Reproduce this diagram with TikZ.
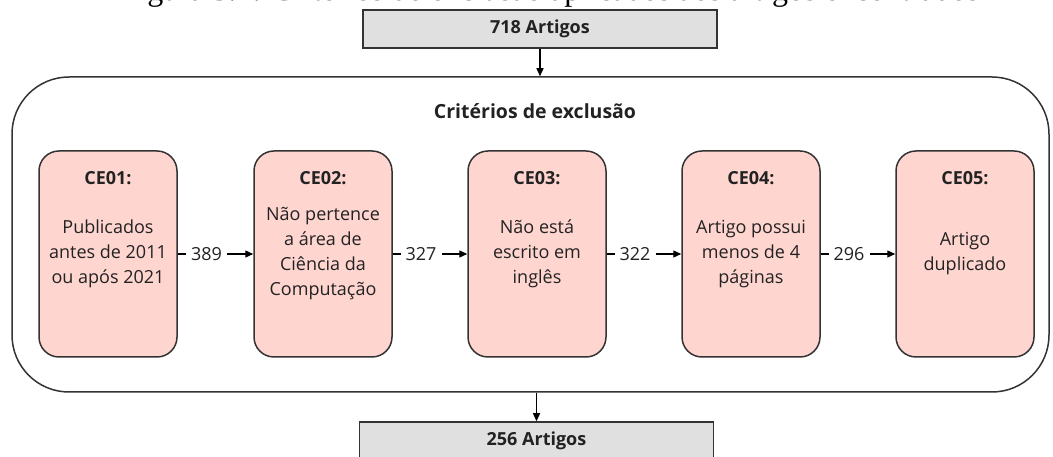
\documentclass[tikz,border=0pt]{standalone}
\usepackage{fontspec}
\setmainfont{Open Sans}
\newfontfamily\capfont{Liberation Serif}
\usetikzlibrary{arrows.meta,positioning}

\definecolor{critfill}{HTML}{FFD5D0}
\definecolor{countfill}{HTML}{E0E0E0}
\definecolor{linegray}{HTML}{333333}
\definecolor{textgray}{HTML}{222222}

\tikzset{
  txt/.style={font=\fontsize{18}{25}\selectfont, text=textgray},
  countbox/.style={txt, draw=linegray, line width=1.5pt, fill=countfill,
    minimum width=354pt, minimum height=38pt, font=\fontsize{18}{25}\selectfont\bfseries},
  critbox/.style={draw=linegray, line width=1.5pt, fill=critfill,
    rounded corners=20pt, minimum width=138pt, minimum height=206pt},
  frame/.style={draw=linegray, line width=1.5pt, rounded corners=57pt,
    minimum width=1037pt, minimum height=315pt},
  head/.style={txt, font=\fontsize{18}{25}\selectfont\bfseries},
  body/.style={txt, align=center},
  num/.style={txt, fill=white, inner xsep=5pt, inner ysep=2pt, pos=0.38},
  flow/.style={draw=black, line width=1.3pt, -{Triangle[length=8pt,width=7pt]}}
}

\begin{document}
\begin{tikzpicture}[x=1pt,y=1pt]
  \path[use as bounding box, clip] (0,0) rectangle (1053,457);

  % caption of the figure, cut at the top
  \node[anchor=base, inner sep=0pt, font=\capfont\fontsize{32}{36}\selectfont] (caption)
    at (550,456) {Figura 3.1: Critérios de exclusão aplicados aos artigos encontrados};

  \node[countbox] (in) at (540,428) {718 Artigos};
  \node[frame] (crit) at (530.5,222.5) {};
  \node[head, font=\fontsize{19.5}{25}\selectfont\bfseries] (title) at (535,346) {Critérios de exclusão};

  % the five criteria
  \node[critbox] (c1) at (108,203) {};
  \node[critbox] (c2) at (323,203) {};
  \node[critbox] (c3) at (537,203) {};
  \node[critbox] (c4) at (751,203) {};
  \node[critbox] (c5) at (965,203) {};

  \node[head] (h1) at ([yshift=-28pt]c1.north) {CE01:};
  \node[head] (h2) at ([yshift=-28pt]c2.north) {CE02:};
  \node[head] (h3) at ([yshift=-28pt]c3.north) {CE03:};
  \node[head] (h4) at ([yshift=-28pt]c4.north) {CE04:};
  \node[head] (h5) at ([yshift=-28pt]c5.north) {CE05:};

  \node[body] (t1) at (c1) {Publicados\\antes de 2011\\ou após 2021};
  \node[body] (t2) at (c2) {Não pertence\\a área de\\Ciência da\\Computação};
  \node[body] (t3) at (c3) {Não está\\escrito em\\inglês};
  \node[body] (t4) at (c4) {Artigo possui\\menos de 4\\páginas};
  \node[body] (t5) at (c5) {Artigo\\duplicado};

  \node[countbox] (out) at (536.5,16) {256 Artigos};

  \begin{scope}[flow]
    \draw (in.south) -- (in.south |- crit.north);
    \draw (c1) -- node[num]{389} (c2);
    \draw (c2) -- node[num]{327} (c3);
    \draw (c3) -- node[num]{322} (c4);
    \draw (c4) -- node[num]{296} (c5);
    \draw (out.north |- crit.south) -- (out.north);
  \end{scope}
\end{tikzpicture}
\end{document}
